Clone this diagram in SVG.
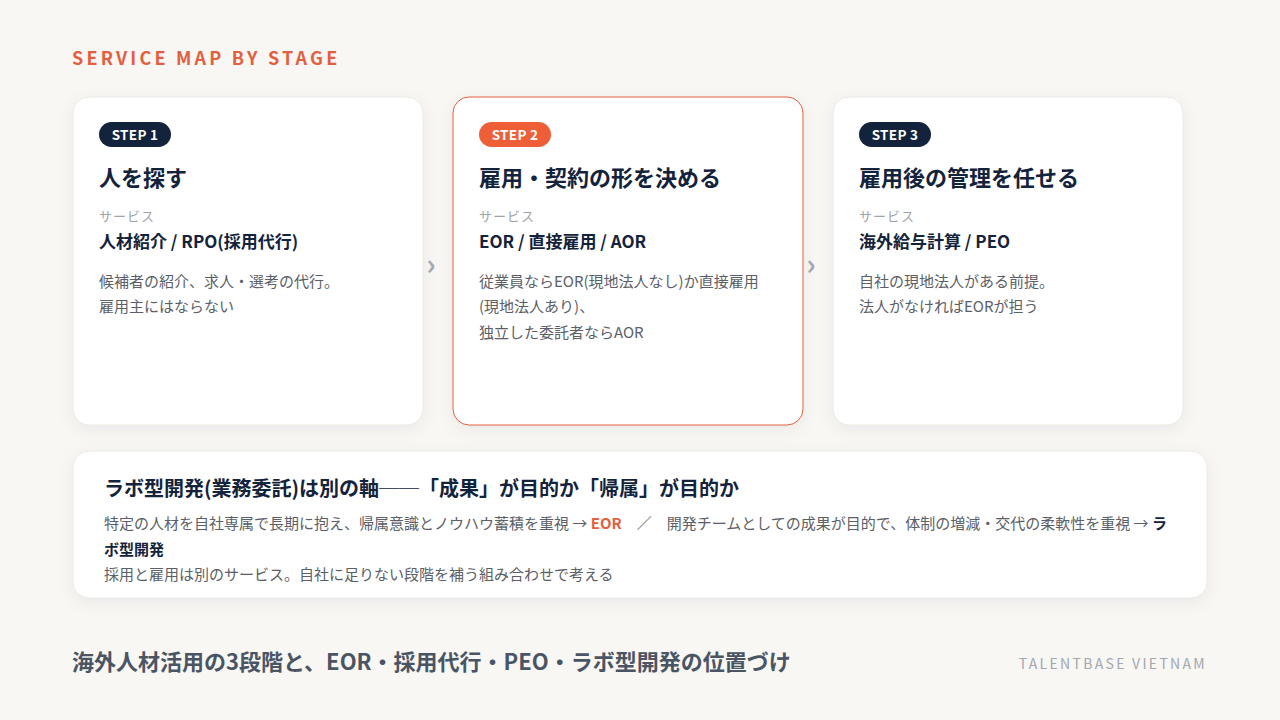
<svg xmlns="http://www.w3.org/2000/svg" width="1280" height="720" viewBox="0 0 1280 720">
<defs>
<filter id="sh" x="-10%" y="-10%" width="120%" height="130%">
<feDropShadow dx="0" dy="4" stdDeviation="8" flood-color="#1a2438" flood-opacity="0.06"/>
</filter>
<style>
text{font-family:"Noto Sans CJK JP","Noto Sans",sans-serif;}
.card{fill:#ffffff;stroke:#ebe8e3;stroke-width:1;}
.card.hl{stroke:#e2603f;}
.pill{fill:#13233b;}
.pill.hl{fill:#ee5f38;}
.pt{fill:#fff;font-size:13.5px;font-weight:700;text-anchor:middle;letter-spacing:0.3px;}
.h{fill:#13233b;font-size:22px;font-weight:700;}
.lbl{fill:#9ea3aa;font-size:13px;letter-spacing:1px;}
.svc{fill:#13233b;font-size:17px;font-weight:700;}
.d{fill:#5b6068;font-size:15px;}
.chev{fill:#a3a8b1;font-size:29px;font-weight:700;text-anchor:middle;}
</style>
</defs>
<rect width="1280" height="720" fill="#f8f7f4"/>
<text x="72" y="65" fill="#e2603f" font-size="18" font-weight="700" letter-spacing="3.2">SERVICE MAP BY STAGE</text>

<g id="step1">
<rect class="card" x="73" y="97" width="350" height="328" rx="16" filter="url(#sh)"/>
<rect class="pill" x="99" y="122" width="72" height="25" rx="12.5"/>
<text class="pt" x="135" y="139.5">STEP 1</text>
<text class="h" x="99" y="186">人を探す</text>
<text class="lbl" x="99" y="221">サービス</text>
<text class="svc" x="99" y="248">人材紹介 / RPO(採用代行)</text>
<text class="d" x="99" y="287">候補者の紹介、求人・選考の代行。</text>
<text class="d" x="99" y="312">雇用主にはならない</text>
</g>

<g id="step2">
<rect class="card hl" x="453" y="97" width="350" height="328" rx="16" filter="url(#sh)"/>
<rect class="pill hl" x="479" y="122" width="72" height="25" rx="12.5"/>
<text class="pt" x="515" y="139.5">STEP 2</text>
<text class="h" x="479" y="186">雇用・契約の形を決める</text>
<text class="lbl" x="479" y="221">サービス</text>
<text class="svc" x="479" y="248">EOR / 直接雇用 / AOR</text>
<text class="d" x="479" y="287">従業員ならEOR(現地法人なし)か直接雇用</text>
<text class="d" x="479" y="312">(現地法人あり)、</text>
<text class="d" x="479" y="338">独立した委託者ならAOR</text>
</g>

<g id="step3">
<rect class="card" x="833" y="97" width="350" height="328" rx="16" filter="url(#sh)"/>
<rect class="pill" x="859" y="122" width="72" height="25" rx="12.5"/>
<text class="pt" x="895" y="139.5">STEP 3</text>
<text class="h" x="859" y="186">雇用後の管理を任せる</text>
<text class="lbl" x="859" y="221">サービス</text>
<text class="svc" x="859" y="248">海外給与計算 / PEO</text>
<text class="d" x="859" y="287">自社の現地法人がある前提。</text>
<text class="d" x="859" y="312">法人がなければEORが担う</text>
</g>

<g id="connectors">
<text class="chev" x="431" y="275">›</text>
<text class="chev" x="811" y="275">›</text>
</g>

<g id="note">
<rect class="card" x="73" y="451" width="1134" height="147" rx="16" filter="url(#sh)"/>
<text x="104" y="496" fill="#13233b" font-size="20" font-weight="700">ラボ型開発(業務委託)は別の軸──「成果」が目的か「帰属」が目的か</text>
<text class="d" x="104" y="529">特定の人材を自社専属で長期に抱え、帰属意識とノウハウ蓄積を重視 → <tspan fill="#e2603f" font-weight="700">EOR</tspan>　／　開発チームとしての成果が目的で、体制の増減・交代の柔軟性を重視 → <tspan fill="#13233b" font-weight="700">ラ</tspan></text>
<text class="d" x="104" y="555" font-weight="700" style="fill:#13233b">ボ型開発</text>
<text class="d" x="104" y="580">採用と雇用は別のサービス。自社に足りない段階を補う組み合わせで考える</text>
</g>

<text x="72" y="670" fill="#4a5563" font-size="22" font-weight="700">海外人材活用の3段階と、EOR・採用代行・PEO・ラボ型開発の位置づけ</text>
<text x="1207" y="669" fill="#a3a7ae" font-size="14" letter-spacing="2.3" text-anchor="end">TALENTBASE VIETNAM</text>
</svg>
